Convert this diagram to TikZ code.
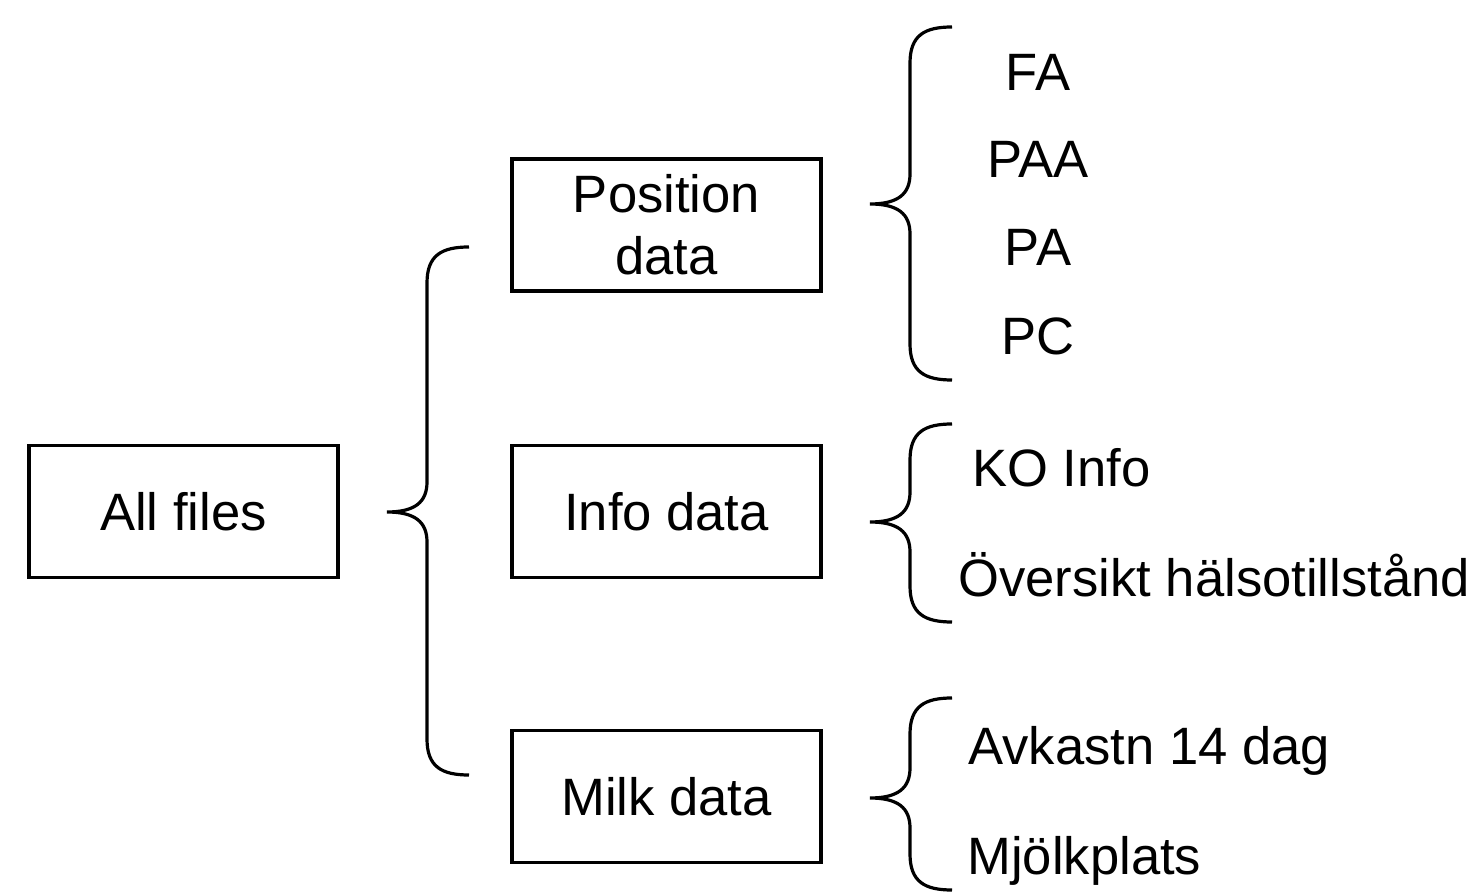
\documentclass[tikz,border=0pt]{standalone}
\usepackage{fontspec}
\setmainfont{Liberation Sans}
\newcommand{\mybrace}[4]{%
  \draw[bracestyle] ({#1+82},#2) .. controls ({#1+55},#2) and ({#1+40},{#2+8}) .. ({#1+40},{#2+36})
    -- ({#1+40},{#3-30}) .. controls ({#1+40},{#3-10}) and ({#1+28},#3) .. (#1,#3)
    .. controls ({#1+28},#3) and ({#1+40},{#3+10}) .. ({#1+40},{#3+30})
    -- ({#1+40},{#4-36}) .. controls ({#1+40},{#4-8}) and ({#1+55},#4) .. ({#1+82},#4);}
\begin{document}
\begin{tikzpicture}[x=0.5pt,y=-0.5pt,
  every node/.style={font=\fontsize{26.3}{31}\selectfont},
  box/.style={draw, line width=1.6pt, minimum width=154.5pt, minimum height=66pt, align=center, inner sep=0pt},
  item/.style={inner sep=0pt},
  bracestyle/.style={line width=1.6pt}]
\useasboundingbox (0,0) rectangle (1478,892);
\node[box] (all) at (183.5,511.5) {All files};
\node[box] (pos) at (666.5,225) {Position\\data};
\node[box] (info) at (666.5,511.5) {Info data};
\node[box] (milk) at (666.5,796.5) {Milk data};
\mybrace{387}{247}{512}{775}
\mybrace{870}{27}{204}{380}
\mybrace{870}{424}{522}{622}
\mybrace{870}{698}{798}{890}
\node[item, anchor=base] (fa) at (1038,91) {FA};
\node[item, anchor=base] (paa) at (1038,178) {PAA};
\node[item, anchor=base] (pa) at (1038,266) {PA};
\node[item, anchor=base] (pc) at (1038,355) {PC};
\node[item, anchor=base west] (ko) at (972,487) {KO Info};
\node[item, anchor=base west] (ov) at (958,597) {Översikt hälsotillstånd};
\node[item, anchor=base west] (avk) at (968,764) {Avkastn 14 dag};
\node[item, anchor=base west] (mj) at (967,874) {Mjölkplats};
\end{tikzpicture}
\end{document}
